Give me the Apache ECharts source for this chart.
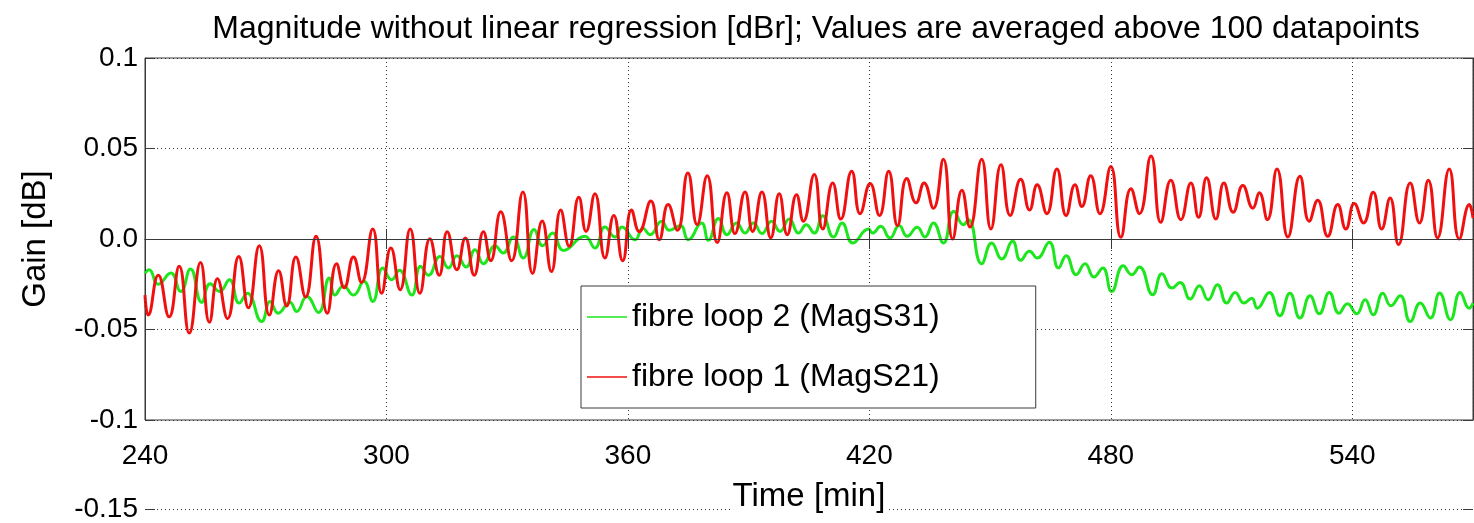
<!DOCTYPE html>
<html>
<head>
<meta charset="utf-8">
<script src="https://cdn.jsdelivr.net/npm/echarts@6/dist/echarts.min.js"></script>
<style>
html,body{margin:0;padding:0;background:#fff;}
#chart{width:1474px;height:523px;}
</style>
</head>
<body>
<div id="chart"></div>
<script>
// ---- data ----
const titleText = 'Magnitude without linear regression [dBr]; Values are averaged above 100 datapoints';
const xName = 'Time [min]';
const yName = 'Gain [dB]';
const seriesNames = ['fibre loop 2 (MagS31)', 'fibre loop 1 (MagS21)'];
const xTicks = [240, 300, 360, 420, 480, 540];
const xTickLabels = ['240', '300', '360', '420', '480', '540'];
const yTicks = [-0.15, -0.1, -0.05, 0, 0.05, 0.1];
const yTickLabels = ['-0.15', '-0.1', '-0.05', '0.0', '0.05', '0.1'];

// fibre loop 2 (MagS31) — [time, gain]
const greenPoints = [
 [240,-0.019],[241.0,-0.017],[243.3,-0.025],[246.4,-0.0188],[248.9,-0.029],[251.3,-0.0166],[254.1,-0.035],
 [256.2,-0.0247],[258.5,-0.029],[261.0,-0.0225],[263.4,-0.0354],[265.4,-0.030],[269.0,-0.0456],[271.1,-0.0345],
 [273.1,-0.041],[276.0,-0.035],[277.7,-0.040],[280.2,-0.0317],[283.1,-0.0406],[285.8,-0.0216],[287.2,-0.031],
 [289.3,-0.026],[291.8,-0.031],[294.4,-0.0234],[296.6,-0.0345],[299.1,-0.016],[301.3,-0.0225],[303.2,-0.0173],
 [306.3,-0.031],[308.5,-0.0151],[310.4,-0.020],[313.3,-0.0096],[315.4,-0.016],[317.5,-0.0092],[319.8,-0.0155],
 [322.0,-0.0059],[324.1,-0.0137],[327.0,-0.0037],[329.0,-0.0077],[331.5,0.0011],[334.0,-0.0105],[336.7,0.0052],
 [338.8,-0.0037],[341.3,0.0033],[344.0,-0.0063],[349.3,0.0015],[351.8,-0.005],[354.3,0.0066],[356.8,0.0011],
 [358.5,0.0066],[361.8,-0.0004],[363.7,0.006],[365.5,0.0024],[368.4,0.0098],[370.3,0.0048],[373.0,0.0074],
 [375.0,-0.0004],[378.3,0.0089],[380.0,-0.0007],[382.5,0.0113],[384.6,0.0024],[387.0,0.0089],[389.1,0.0033],
 [391.2,0.0089],[393.3,0.003],[395.7,0.0098],[397.8,0.0042],[400.1,0.011],[402.4,0.0033],[404.3,0.0079],
 [406.3,0.0033],[408.4,0.0129],[411.1,0.0011],[413.2,0.0089],[415.9,-0.0022],[419.8,0.0055],[420.8,0.0033],
 [422.8,0.007],[425.1,0.0006],[427.4,0.0074],[429.4,0.0015],[431.9,0.0065],[433.8,0.0011],[435.9,0.0089],
 [438.4,-0.0022],[441.0,0.0153],[443.4,0.0079],[444.6,0.0107],[447.9,-0.0137],[450.4,-0.0022],[452.9,-0.011],
 [455.6,-0.0013],[457.6,-0.0118],[459.8,-0.0068],[461.7,-0.0105],[464.7,-0.0018],[467.0,-0.016],[468.9,-0.0092],
 [471.4,-0.0197],[473.6,-0.0137],[475.8,-0.021],[478.0,-0.016],[480.2,-0.029],[483.1,-0.0148],[485.2,-0.0197],
 [487.1,-0.0155],[490.4,-0.0308],[492.7,-0.0192],[495.2,-0.0271],[497.2,-0.024],[499.7,-0.0332],[502.0,-0.0258],
 [504.2,-0.0336],[506.5,-0.0253],[508.8,-0.0354],[510.9,-0.0295],[513.1,-0.0354],[515.0,-0.0327],[516.4,-0.0382],
 [519.4,-0.0295],[522.0,-0.0424],[524.5,-0.030],[527.0,-0.0437],[529.5,-0.0314],[531.8,-0.0413],[534.3,-0.0295],
 [536.7,-0.041],[538.8,-0.0358],[541.1,-0.0413],[543.2,-0.0336],[545.2,-0.0419],[547.6,-0.030],[549.6,-0.0369],
 [551.9,-0.0314],[554.4,-0.0456],[556.9,-0.0354],[559.4,-0.0437],[561.7,-0.0299],[564.4,-0.0446],[566.8,-0.0295],
 [569.1,-0.0382],[570,-0.0354]
];

// fibre loop 1 (MagS21) — [time, gain]
const redPoints = [
 [240,-0.031],[240.8,-0.042],[243.3,-0.020],[246.0,-0.043],[248.5,-0.015],[251.0,-0.052],[253.8,-0.013],
 [256.0,-0.046],[258.0,-0.022],[260.5,-0.044],[263.3,-0.0096],[265.7,-0.038],[268.4,-0.0037],[270.9,-0.042],
 [273.2,-0.0175],[275.2,-0.037],[277.5,-0.010],[279.9,-0.032],[282.5,0.0015],[285.3,-0.041],[287.6,-0.0137],
 [289.5,-0.027],[291.8,-0.010],[293.8,-0.024],[296.6,0.0055],[298.8,-0.030],[301.1,-0.005],[303.4,-0.028],
 [305.9,0.0055],[308.3,-0.030],[310.8,0.0002],[313.1,-0.020],[315.1,0.004],[317.5,-0.017],[319.6,0.0006],
 [321.8,-0.020],[324.1,0.004],[325.9,-0.012],[328.4,0.015],[331.1,-0.012],[333.9,0.026],[336.3,-0.019],
 [338.7,0.010],[341.0,-0.018],[343.3,0.016],[345.4,-0.004],[347.8,0.023],[349.6,0.0042],[351.8,0.025],
 [354.3,-0.0105],[356.5,0.013],[358.7,-0.012],[360.9,0.016],[362.8,0.004],[365.7,0.021],[367.8,-0.0004],
 [370.0,0.019],[372.3,0.0048],[374.9,0.0365],[377.2,0.008],[379.7,0.035],[382.2,-0.002],[384.6,0.0255],
 [386.6,0.003],[389.1,0.026],[391.0,0.0042],[393.3,0.026],[395.5,0.0006],[397.6,0.025],[399.6,0.0024],
 [401.9,0.0245],[403.6,0.0098],[406.3,0.0356],[408.4,0.0055],[410.9,0.031],[412.9,0.011],[415.6,0.0375],
 [417.7,0.014],[420.2,0.0306],[422.5,0.013],[424.8,0.0375],[427.0,0.0074],[429.3,0.0334],[431.6,0.020],
 [433.6,0.031],[435.9,0.017],[438.4,0.044],[440.7,0.0],[443.0,0.027],[445.0,0.0066],[447.9,0.044],
 [450.2,0.0055],[452.7,0.041],[455.0,0.013],[457.6,0.033],[459.8,0.016],[461.7,0.030],[464.1,0.014],
 [466.6,0.0387],[468.9,0.013],[471.1,0.030],[472.8,0.018],[475.0,0.035],[477.3,0.014],[480.0,0.040],
 [482.5,0.0009],[485.0,0.0277],[487.1,0.014],[490.0,0.0458],[492.4,0.0092],[494.9,0.0325],[497.4,0.0107],
 [499.9,0.031],[501.8,0.012],[503.8,0.0338],[506.1,0.011],[508.1,0.031],[510.4,0.0148],[512.8,0.0295],
 [515.3,0.017],[516.9,0.0255],[518.9,0.0107],[521.3,0.0387],[524.0,0.0011],[527.0,0.0347],[529.3,0.0098],
 [531.4,0.0214],[533.9,0.0015],[536.4,0.019],[538.4,0.0055],[540.5,0.0196],[542.8,0.0089],[545.2,0.0258],
 [547.3,0.0055],[549.4,0.0227],[551.5,-0.0031],[554.4,0.031],[556.7,0.0089],[558.9,0.0325],[561.2,0.0006],
 [564.1,0.0387],[566.6,0.0],[569.1,0.019],[570,0.0116]
];

// ---- chart ----
const FONT = '"Liberation Sans", Arial, Helvetica, sans-serif';
const AX = '#3a3a3a';
const GRIDC = '#333';
const dot = [1, 3];
const GREEN = '#1ee61e';
const RED = '#f01010';

function yLab(v) {
  let best = 0, bd = 1e9;
  yTicks.forEach((t, i) => { const d = Math.abs(t - v); if (d < bd) { bd = d; best = i; } });
  return yTickLabels[best];
}
function xLab(v) {
  const i = xTicks.indexOf(Math.round(v));
  return i >= 0 ? xTickLabels[i] : '';
}

const chart = echarts.init(document.getElementById('chart'), null, {renderer: 'canvas'});
const tickStyle = {show: true, inside: true, length: 10, lineStyle: {color: AX, width: 1}};

chart.setOption({
  animation: false,
  backgroundColor: '#fff',
  textStyle: {fontFamily: FONT},
  title: {
    text: titleText, left: 811, top: 8, textAlign: 'center',
    textStyle: {fontFamily: FONT, fontSize: 32, fontWeight: 'normal', color: '#000'}
  },
  legend: {
    orient: 'vertical', left: 581, top: 286,
    padding: [15, 96, 15, 6], itemGap: 28, itemWidth: 40, itemHeight: 1.5,
    borderColor: AX, borderWidth: 1, backgroundColor: '#fff',
    textStyle: {fontFamily: FONT, fontSize: 32, lineHeight: 32, color: '#000'},
    data: [
      {name: seriesNames[0], icon: 'rect', itemStyle: {color: GREEN}},
      {name: seriesNames[1], icon: 'rect', itemStyle: {color: RED}}
    ],
    z: 10
  },
  grid: [
    {left: 145, top: 58, width: 1328, height: 362, show: true, borderColor: AX, borderWidth: 1, backgroundColor: 'transparent'},
    {left: 145, top: 420, width: 1328, height: 91, show: false}
  ],
  xAxis: [
    {gridIndex: 0, type: 'value', min: 240, max: 570, interval: 60, position: 'bottom', z: 5,
     axisLine: {show: true, lineStyle: {color: AX, width: 1}},
     axisTick: tickStyle,
     axisLabel: {fontFamily: FONT, fontSize: 28, color: '#000', margin: 22, showMaxLabel: false, formatter: xLab},
     splitLine: {show: true, lineStyle: {color: GRIDC, type: dot, width: 1}},
     name: xName, nameLocation: 'middle', nameGap: 60,
     nameTextStyle: {fontFamily: FONT, fontSize: 33, color: '#000', backgroundColor: '#fff', padding: [0, 2]}},
    {gridIndex: 0, type: 'value', min: 240, max: 570, interval: 60, position: 'top',
     axisLine: {show: true, lineStyle: {color: AX, width: 1}},
     axisTick: tickStyle, axisLabel: {show: false}, splitLine: {show: false}},
    {gridIndex: 1, type: 'value', min: 240, max: 570, interval: 60, show: false}
  ],
  yAxis: [
    {gridIndex: 0, type: 'value', min: -0.1, max: 0.1, interval: 0.05, position: 'left',
     axisLine: {show: true, lineStyle: {color: AX, width: 1}},
     axisTick: tickStyle,
     axisLabel: {fontFamily: FONT, fontSize: 28, color: '#000', margin: 7, formatter: yLab},
     splitLine: {show: true, lineStyle: {color: GRIDC, type: dot, width: 1}},
     name: yName, nameLocation: 'middle', nameGap: 93, nameRotate: 90,
     nameTextStyle: {fontFamily: FONT, fontSize: 33, color: '#000'}},
    {gridIndex: 0, type: 'value', min: -0.1, max: 0.1, interval: 0.05, position: 'right',
     axisLine: {show: true, lineStyle: {color: AX, width: 1}},
     axisTick: tickStyle, axisLabel: {show: false}, splitLine: {show: false}},
    {gridIndex: 1, type: 'value', min: -0.15, max: -0.1, interval: 0.05, position: 'left',
     axisLine: {show: false}, axisTick: tickStyle,
     axisLabel: {fontFamily: FONT, fontSize: 28, color: '#000', margin: 7, showMaxLabel: false, formatter: yLab},
     splitLine: {show: true, lineStyle: {color: GRIDC, type: dot, width: 1}}},
    {gridIndex: 1, type: 'value', min: -0.15, max: -0.1, interval: 0.05, position: 'right',
     axisLine: {show: false}, axisTick: tickStyle, axisLabel: {show: false}, splitLine: {show: false}}
  ],
  series: [
    {name: seriesNames[0], type: 'line', xAxisIndex: 0, yAxisIndex: 0, data: greenPoints,
     smooth: 0.5, symbol: 'none', lineStyle: {color: GREEN, width: 3}, itemStyle: {color: GREEN}, z: 2},
    {name: seriesNames[1], type: 'line', xAxisIndex: 0, yAxisIndex: 0, data: redPoints,
     smooth: 0.5, symbol: 'none', lineStyle: {color: RED, width: 3}, itemStyle: {color: RED}, z: 3}
  ]
});
</script>
</body>
</html>
